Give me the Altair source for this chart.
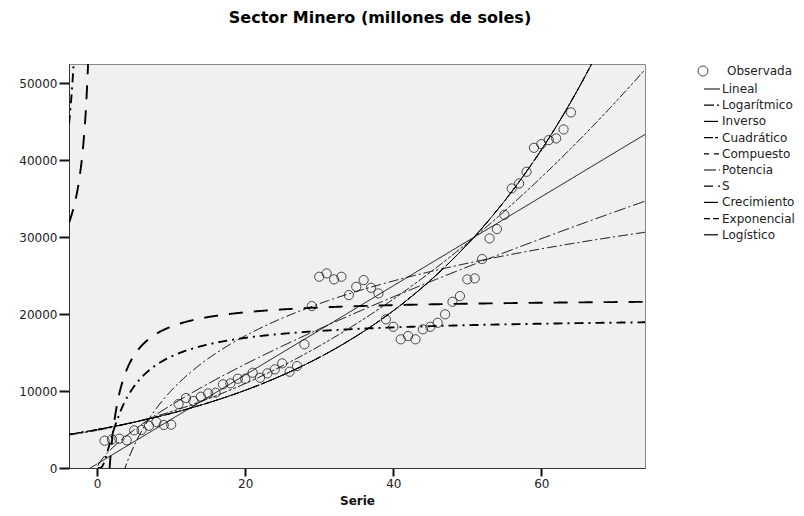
import numpy as np
import pandas as pd
import altair as alt

# ---- data ----
serie = list(range(1, 65))
observada = [3546, 3728, 3806, 3598, 4897, 4936, 5495, 5975, 5586, 5625,
             8314, 9093, 8703, 9262, 9700, 9780, 10870, 11000, 11600, 11600,
             12380, 11730, 12300, 12820, 13600, 12510, 13250, 16070, 21040, 24850,
             25290, 24510, 24850, 22470, 23550, 24420, 23420, 22690, 19320, 18350,
             16720, 17150, 16720, 18020, 18350, 18870, 19970, 21600, 22340, 24510,
             24640, 27150, 29840, 31050, 32900, 36330, 36980, 38490, 41610, 42090,
             42610, 42830, 44000, 46210]

modelos = ["Lineal", "Logarítmico", "Inverso", "Cuadrático", "Compuesto",
           "Potencia", "S", "Crecimiento", "Exponencial", "Logístico"]
trazos = [[1, 0], [10, 3, 2, 3], [14, 11], [9, 2, 3, 2, 3, 2], [5, 5],
          [12, 3, 2, 3], [9, 5, 2, 5], [14, 3], [6, 3, 6, 3, 2, 3], [14, 3, 2, 3]]
gruesos = ["Inverso", "S"]
x_dominio = [-3.8, 74]
y_dominio = [0, 52500]
x_ticks = [0, 20, 40, 60]
y_ticks = [0, 10000, 20000, 30000, 40000, 50000]

# ---- curve estimation (SPSS-style least squares on the observed series) ----
t = np.array(serie, dtype=float)
y = np.array(observada, dtype=float)
ly = np.log(y)
c_lin = np.polyfit(t, y, 1)
c_quad = np.polyfit(t, y, 2)
c_log = np.polyfit(np.log(t), y, 1)
c_inv = np.polyfit(1 / t, y, 1)
c_exp = np.polyfit(t, ly, 1)
c_pow = np.polyfit(np.log(t), ly, 1)
c_s = np.polyfit(1 / t, ly, 1)

g = np.linspace(x_dominio[0], x_dominio[1], 700)
g = g[np.abs(g) > 1e-3]
with np.errstate(all="ignore"):
    gp = np.where(g > 0, g, np.nan)
    curvas = {
        "Lineal": np.polyval(c_lin, g),
        "Logarítmico": np.polyval(c_log, np.log(gp)),
        "Inverso": np.polyval(c_inv, 1 / g),
        "Cuadrático": np.polyval(c_quad, g),
        "Compuesto": np.exp(np.polyval(c_exp, g)),
        "Potencia": np.exp(np.polyval(c_pow, np.log(gp))),
        "S": np.exp(np.polyval(c_s, 1 / g)),
        "Crecimiento": np.exp(np.polyval(c_exp, g)),
        "Exponencial": np.exp(np.polyval(c_exp, g)),
        "Logístico": np.exp(np.polyval(c_exp, g)),
    }

filas = []
for m in modelos:
    v = curvas[m]
    for xi, yi in zip(g, v):
        if np.isfinite(yi) and abs(yi) < 1e6:
            filas.append({"serie": round(float(xi), 3), "valor": round(float(yi), 1),
                          "modelo": m, "tramo": m + ("-" if xi < 0 else "+")})
df_curvas = pd.DataFrame(filas)
df_obs = pd.DataFrame({"serie": serie, "valor": observada, "tipo": "Observada"})

x_enc = alt.X("serie:Q", scale=alt.Scale(domain=x_dominio, nice=False, zero=False),
              axis=alt.Axis(values=x_ticks, title="Serie"))
y_enc = alt.Y("valor:Q", scale=alt.Scale(domain=y_dominio, nice=False),
              axis=alt.Axis(values=y_ticks, format="d", title=None))

leyenda_lineas = alt.Legend(orient="none", legendX=637, legendY=19, title=None,
                            symbolType="M-2,0L2,0", symbolSize=64, symbolStrokeWidth=1.2,
                            symbolStrokeColor="black", symbolFillColor="transparent",
                            labelOffset=4, rowPadding=4.2, labelFont="DejaVu Sans",
                            labelFontSize=12, labelColor="#222", padding=0)
dash_enc = alt.StrokeDash("modelo:N", scale=alt.Scale(domain=modelos, range=trazos),
                          legend=leyenda_lineas)

base = alt.Chart(df_curvas)
finas = base.transform_filter(
    ~alt.FieldOneOfPredicate(field="modelo", oneOf=gruesos)
).mark_line(clip=True, color="black", strokeWidth=1).encode(
    x=x_enc, y=y_enc, strokeDash=dash_enc, detail="tramo:N")
gruesas = base.transform_filter(
    alt.FieldOneOfPredicate(field="modelo", oneOf=gruesos)
).mark_line(clip=True, color="black", strokeWidth=1.9).encode(
    x=x_enc, y=y_enc, strokeDash=dash_enc, detail="tramo:N")

puntos = alt.Chart(df_obs).mark_point(shape="circle", filled=False, size=85,
                                      color="black", strokeWidth=1, clip=True).encode(
    x=x_enc, y=y_enc,
    shape=alt.Shape("tipo:N", scale=alt.Scale(domain=["Observada"], range=["circle"]),
                    legend=alt.Legend(orient="none", legendX=628, legendY=1, title=None,
                                      symbolSize=100, symbolStrokeWidth=1,
                                      symbolStrokeColor="black", symbolFillColor="transparent",
                                      labelOffset=18, labelFont="DejaVu Sans", labelFontSize=12,
                                      labelColor="#222", padding=0)))

chart = alt.layer(puntos, finas, gruesas).resolve_legend(strokeDash="shared").properties(
    width=576, height=404, autosize="none",
    padding={"left": 61, "top": 56, "right": 151, "bottom": 40},
    title=alt.TitleParams("Sector Minero (millones de soles)", font="DejaVu Sans",
                          fontSize=16, fontWeight="bold", anchor="middle", frame="group",
                          dx=23, offset=38, color="black"),
).configure_view(fill="#f0f0f0", stroke="#8a8a8a", strokeWidth=1).configure_axis(
    labelFont="DejaVu Sans", labelFontSize=12, labelColor="#222", tickColor="#111",
    tickWidth=2, domainColor="#333", grid=False, titleFont="DejaVu Sans",
    titleFontWeight="bold", titleFontSize=12, titleColor="#111"
).configure_axisY(tickSize=10, labelPadding=2).configure_axisX(
    tickSize=8, labelPadding=2, titlePadding=6)

chart.save("out.html", embed_options={"renderer": "svg", "actions": False})
